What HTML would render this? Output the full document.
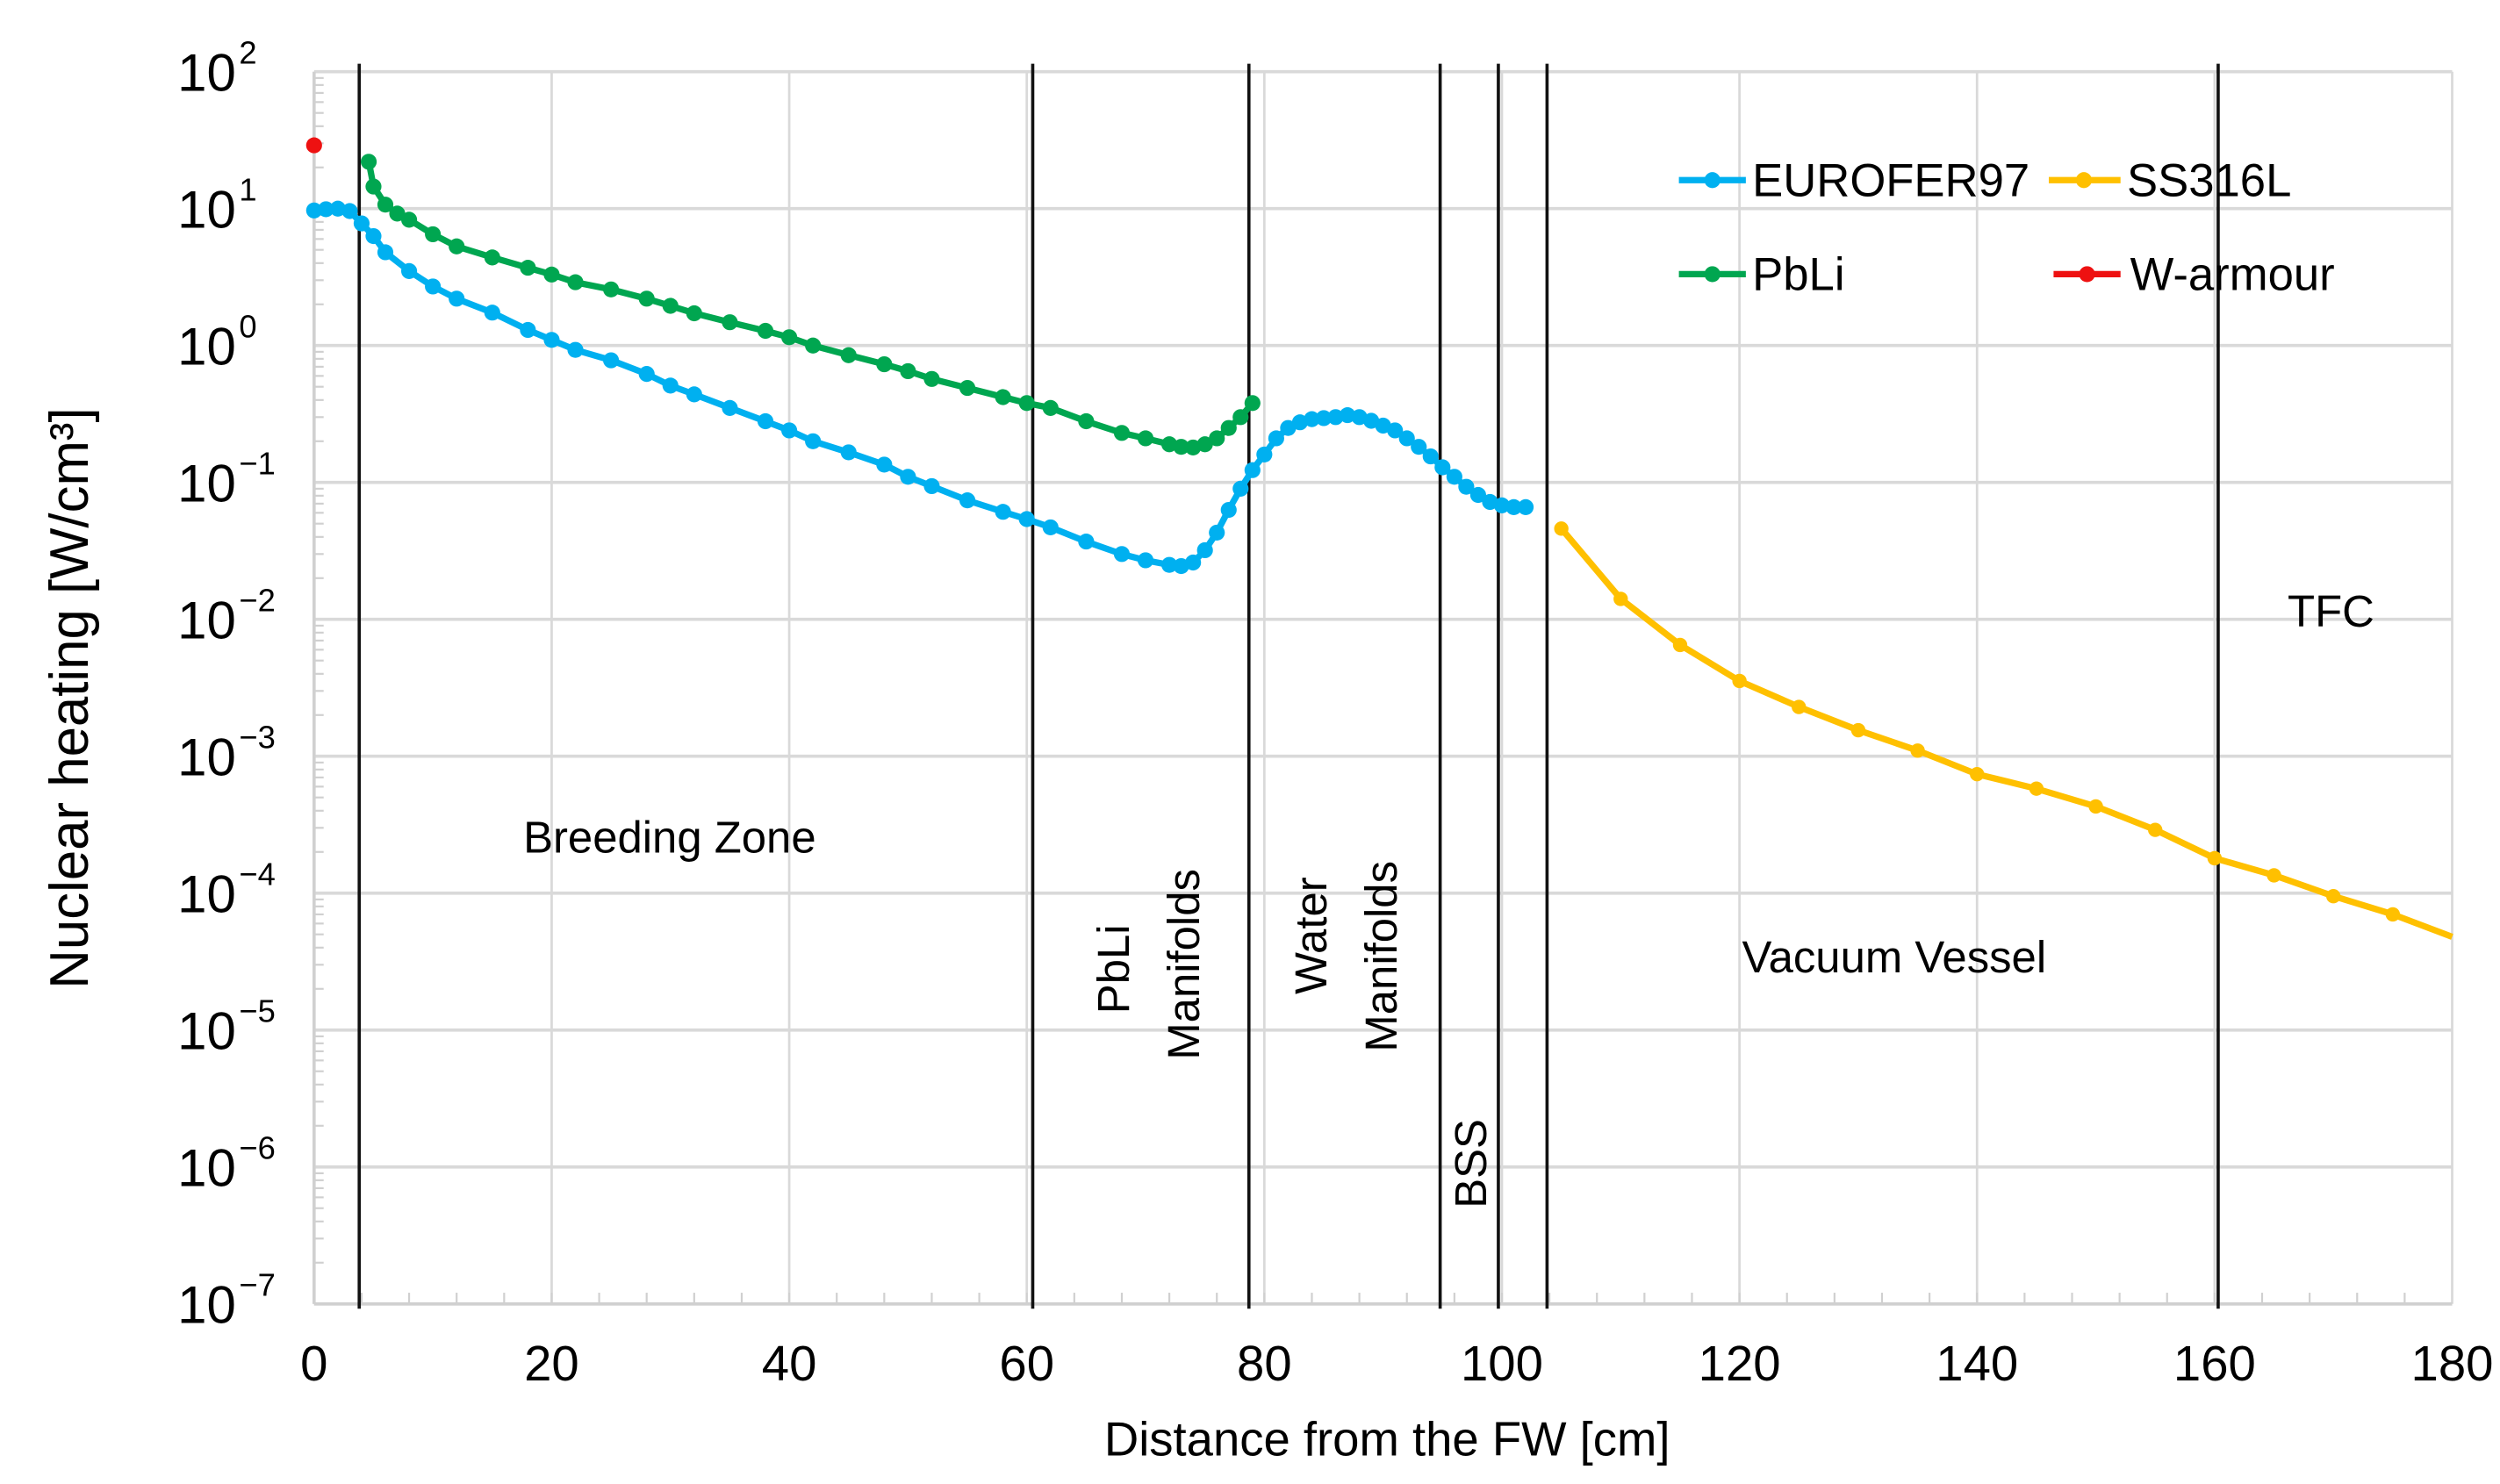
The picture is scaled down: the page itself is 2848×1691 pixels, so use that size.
<!DOCTYPE html>
<html><head><meta charset="utf-8"><style>
html,body{margin:0;padding:0;background:#fff;}
svg{display:block;font-family:"Liberation Sans",sans-serif;}
</style></head><body>
<svg id="chart" width="2848" height="1691" viewBox="0 0 1568 931" xmlns="http://www.w3.org/2000/svg">
<g id="grid"></g>
<g id="axes"></g>
<g id="regions"></g>
<g id="series"></g>
<g font-size="28" fill="#000">
<text x="420" y="535" text-anchor="middle">Breeding Zone</text>
<text transform="translate(708,608) rotate(-90)" text-anchor="middle">PbLi</text>
<text transform="translate(752,605) rotate(-90)" text-anchor="middle">Manifolds</text>
<text transform="translate(832,587) rotate(-90)" text-anchor="middle">Water</text>
<text transform="translate(876,600) rotate(-90)" text-anchor="middle">Manifolds</text>
<text transform="translate(932,730) rotate(-90)" text-anchor="middle">BSS</text>
<text x="1188" y="610" text-anchor="middle">Vacuum Vessel</text>
<text x="1462" y="393" text-anchor="middle">TFC</text>
</g>
<g font-size="29">
<line x1="1053" y1="113" x2="1095" y2="113" stroke="#00b0f0" stroke-width="4"/><circle cx="1074" cy="113" r="5" fill="#00b0f0"/>
<text x="1099" y="123">EUROFER97</text>
<line x1="1285" y1="113" x2="1330" y2="113" stroke="#ffc000" stroke-width="4"/><circle cx="1307" cy="113" r="5" fill="#ffc000"/>
<text x="1334" y="123">SS316L</text>
<line x1="1053" y1="172" x2="1095" y2="172" stroke="#00a650" stroke-width="4"/><circle cx="1074" cy="172" r="5" fill="#00a650"/>
<text x="1099" y="182">PbLi</text>
<line x1="1288" y1="172" x2="1330" y2="172" stroke="#ee1111" stroke-width="4"/><circle cx="1309" cy="172" r="5" fill="#ee1111"/>
<text x="1336" y="182">W-armour</text>
</g>
<text x="870" y="913" text-anchor="middle" font-size="30">Distance from the FW [cm]</text>
<text transform="translate(55,438) rotate(-90)" text-anchor="middle" font-size="34">Nuclear heating [W/cm³]</text>
</svg>
<script>
const xTicks=[0,20,40,60,80,100,120,140,160,180];
const yExps=[2,1,0,-1,-2,-3,-4,-5,-6,-7];
const dividers=[3.8,60.5,78.7,94.8,99.7,103.8,160.3];
const euroX=[0,1,2,3,4,5,6,8,10,12,15,18,20,22,25,28,30,32,35,38,40,42,45,48,50,52,55,58,60,62,65,68,70,72,73,74,75,76,77,78,79,80,81,82,83,84,85,86,87,88,89,90,91,92,93,94,95,96,97,98,99,100,101,102];
const euroY=[9.7,9.9,10,9.6,7.8,6.3,4.8,3.5,2.7,2.2,1.74,1.3,1.1,0.93,0.78,0.62,0.51,0.44,0.35,0.28,0.24,0.2,0.166,0.135,0.11,0.094,0.074,0.061,0.054,0.047,0.037,0.03,0.027,0.025,0.0245,0.026,0.032,0.043,0.063,0.09,0.123,0.16,0.21,0.25,0.275,0.29,0.295,0.3,0.31,0.3,0.282,0.26,0.24,0.21,0.182,0.155,0.129,0.11,0.093,0.081,0.072,0.068,0.066,0.066];
const pbliX=[4.6,5,6,7,8,10,12,15,18,20,22,25,28,30,32,35,38,40,42,45,48,50,52,55,58,60,62,65,68,70,72,73,74,75,76,77,78,79];
const pbliY=[22,14.5,10.7,9.2,8.3,6.5,5.3,4.4,3.7,3.3,2.9,2.57,2.2,1.95,1.72,1.48,1.28,1.15,1.0,0.85,0.73,0.65,0.57,0.49,0.42,0.38,0.35,0.28,0.23,0.21,0.19,0.182,0.18,0.19,0.21,0.25,0.3,0.38];
const ssX=[105,110,115,120,125,130,135,140,145,150,155,160,165,170,175,180];
const ssY=[0.046,0.0141,0.0065,0.00355,0.00229,0.00155,0.0011,0.00074,0.00058,0.00043,0.00029,0.00018,0.000135,0.000095,0.00007,0.000048];
const wX=[0];
const wY=[29];

const NS='http://www.w3.org/2000/svg';
const X0=197,X1=1538,YT=45,YB=818;
function sx(v){return X0+(v/180)*(X1-X0);}
function sy(v){return YT+(2-Math.log10(v))*(YB-YT)/9;}
function mk(tag,attrs,parent){const e=document.createElementNS(NS,tag);for(const k in attrs)e.setAttribute(k,attrs[k]);parent.appendChild(e);return e;}
const grid=document.getElementById('grid'),axes=document.getElementById('axes'),regions=document.getElementById('regions'),series=document.getElementById('series');
xTicks.forEach(t=>{
  const l=mk('line',{x1:sx(t),x2:sx(t),y1:YT,y2:YB,stroke:'#d9d9d9','stroke-width':1.5},grid);
  
  
  const tx=mk('text',{x:sx(t),y:866,'text-anchor':'middle','font-size':31},axes);
  tx.textContent=t;
  
  
});
for(let t=0;t<180;t+=4){mk('line',{x1:sx(t),x2:sx(t),y1:YB,y2:YB-7,stroke:'#d0d0d0','stroke-width':1.2},grid);}
yExps.forEach(e=>{
  const y=sy(Math.pow(10,e));
  const l=mk('line',{x1:X0,x2:X1,y1:y,y2:y,stroke:'#d9d9d9','stroke-width':2},grid);
  
  
  const tx=mk('text',{x:148,y:y+12,'text-anchor':'end','font-size':33},axes);
  tx.textContent='10';
  
  
  const sp=mk('text',{x:150,y:y-5,'text-anchor':'start','font-size':20},axes);
  sp.textContent=e<0?'\u2212'+(-e):String(e);
  for(let k=2;k<10;k++){if(e===-7)break;const yy=sy(Math.pow(10,e-1)*k);mk('line',{x1:X0,x2:X0+6,y1:yy,y2:yy,stroke:'#d0d0d0','stroke-width':1.2},grid);}
});
mk('line',{x1:X0,x2:X0,y1:YT,y2:YB,stroke:'#d0d0d0','stroke-width':2},grid);
mk('line',{x1:X0,x2:X1,y1:YB,y2:YB,stroke:'#d0d0d0','stroke-width':2},grid);
dividers.forEach(d=>{
  const l=mk('line',{x1:sx(d),x2:sx(d),y1:40,y2:YB+3,stroke:'#111','stroke-width':2},regions);
  
  
});
function drawSeries(xs,ys,color,name,r){
  const g=mk('g',{},series);
  
  
  const pts=xs.map((x,i)=>sx(x).toFixed(1)+','+sy(ys[i]).toFixed(1)).join(' ');
  if(xs.length>1)mk('polyline',{points:pts,fill:'none',stroke:color,'stroke-width':4},g);
  xs.forEach((x,i)=>{const c=mk('circle',{cx:sx(x),cy:sy(ys[i]),r:r,fill:color},g);
    
    });
}
drawSeries(euroX,euroY,'#00b0f0','eurofer97-series',5);
drawSeries(pbliX,pbliY,'#00a650','pbli-series',5);
drawSeries(ssX.slice(0,-1),ssY.slice(0,-1),'#ffc000','ss316l-series',4.5);
mk('line',{x1:sx(ssX[ssX.length-2]),y1:sy(ssY[ssY.length-2]),x2:sx(ssX[ssX.length-1]),y2:sy(ssY[ssY.length-1]),stroke:'#ffc000','stroke-width':4},series);
drawSeries(wX,wY,'#ee1111','w-armour-series',5);
</script>
</body></html>
